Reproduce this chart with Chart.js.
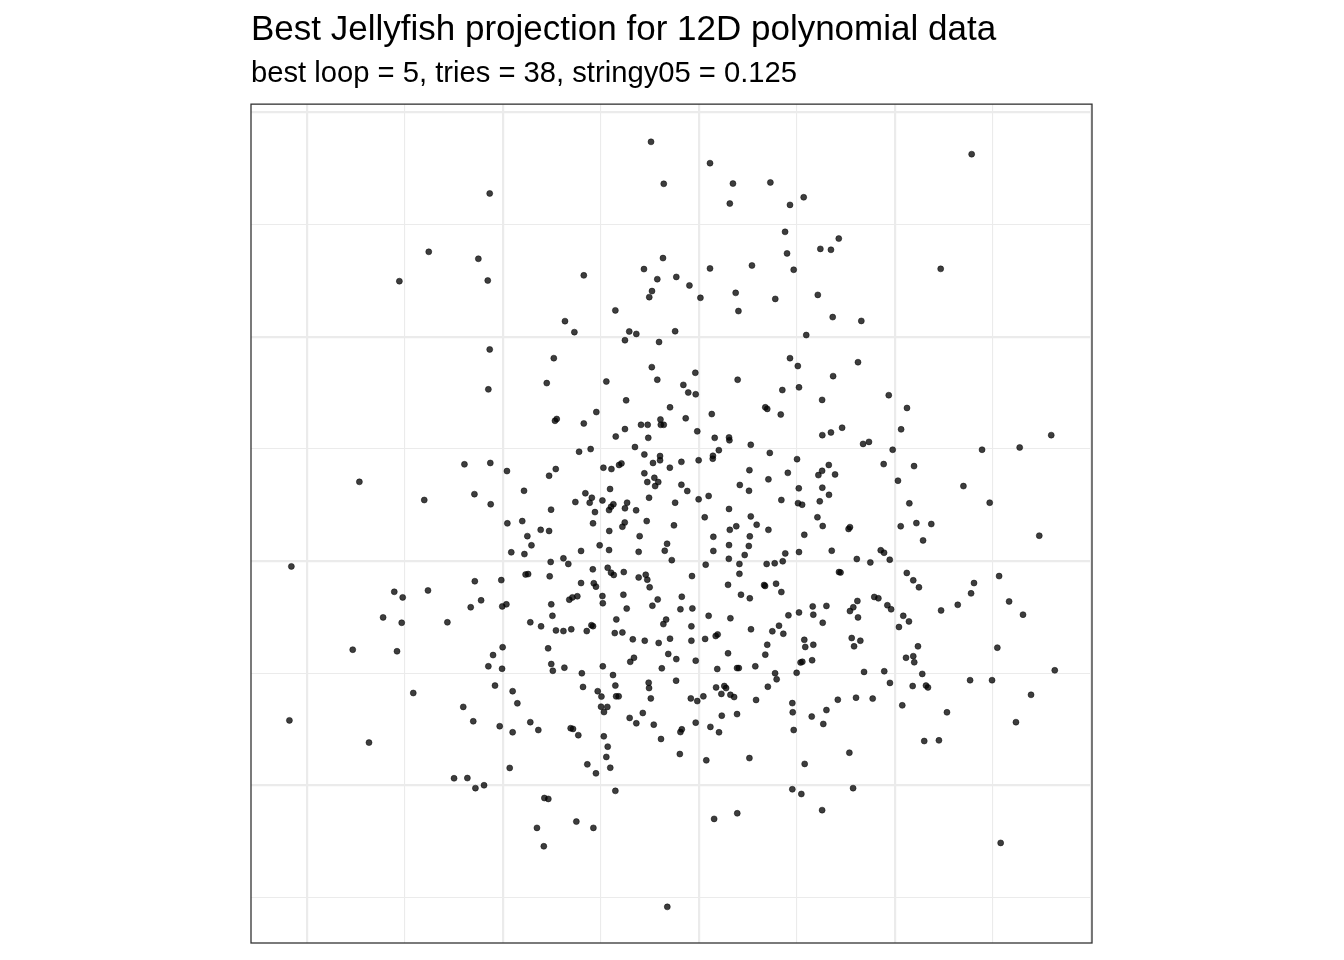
<!DOCTYPE html>
<html>
<head>
<meta charset="utf-8">
<script src="https://cdn.jsdelivr.net/npm/chart.js@4.4.1/dist/chart.umd.min.js"></script>
<style>
  html, body { margin: 0; padding: 0; background: #ffffff; }
  #wrap { width: 1344px; height: 960px; }
</style>
</head>
<body>
<div id="wrap"><canvas id="jelly" width="1344" height="960"></canvas></div>
<script>
const chartTitle = "Best Jellyfish projection for 12D polynomial data";
const chartSubtitle = "best loop = 5, tries = 38, stringy05 = 0.125";

// axis limits (projection units) and grid spacing
const xLimits = [-2.286, 2.005];
const yLimits = [-1.702, 2.036];
const gridStep = 0.5;

// projected points [x, y]
const upperBand = [
  [-1.068,1.638],[-1.379,1.378],[-1.126,1.347],[-1.529,1.247],[-1.078,1.250],[-1.068,0.943],
  [-0.245,1.868],[0.056,1.773],[-0.180,1.681],[0.173,1.682],[0.364,1.687],[0.157,1.593],[0.464,1.587],[0.534,1.621],[0.439,1.467],[0.449,1.371],[0.483,1.298],
  [-0.184,1.350],[-0.281,1.301],[-0.213,1.256],[-0.116,1.266],[-0.049,1.228],[0.056,1.304],[0.270,1.317],[-0.240,1.203],[-0.254,1.176],[0.007,1.173],[0.187,1.195],[0.389,1.168],[0.201,1.114],
  [-0.588,1.273],[-0.427,1.117],[-0.684,1.069],[-0.636,1.020],[-0.356,1.023],[-0.320,1.012],[-0.378,0.984],[-0.204,0.976],[-0.122,1.024],[0.547,1.007],
  [-0.741,0.904],[-0.777,0.793],[-0.473,0.800],[-0.241,0.864],[-0.213,0.808],[-0.080,0.785],[-0.019,0.839],[0.197,0.808],[0.464,0.904],[0.504,0.869],
  [1.391,1.813],[0.713,1.437],[0.619,1.391],[0.673,1.387],[1.233,1.302],[0.606,1.186],[0.682,1.087],[0.828,1.070],[0.811,0.886],[0.684,0.824]
];

const middleLeft = [
  [-1.075,0.765],[-1.197,0.431],[-1.065,0.437],[-0.980,0.401],[-1.733,0.353],[-1.402,0.272],[-1.146,0.298],[-1.063,0.253],[-0.893,0.313],
  [-0.978,0.168],[-0.902,0.178],[-0.876,0.111],[-0.855,0.070],[-0.958,0.039],[-0.891,0.031],[-2.080,-0.024],[-0.885,-0.060],[-0.872,-0.058],
  [-1.144,-0.090],[-1.009,-0.085],[-1.555,-0.137],[-1.512,-0.162],[-1.383,-0.131],[-1.112,-0.175],[-1.165,-0.206],[-1.004,-0.202],[-0.983,-0.193],
  [-1.612,-0.251],[-1.517,-0.275],[-1.284,-0.273],[-0.861,-0.273],[-1.767,-0.395],[-1.541,-0.402],[-1.002,-0.384],[-1.051,-0.419]
];

const middleRight = [
  [0.628,0.718],[0.968,0.739],[1.061,0.682],[0.629,0.561],[0.673,0.573],[0.730,0.594],[0.837,0.522],[0.867,0.531],[1.031,0.587],[0.988,0.496],
  [1.444,0.496],[1.636,0.506],[1.797,0.561],[0.662,0.428],[0.628,0.402],[0.609,0.383],[0.694,0.386],[0.942,0.432],[1.097,0.423],[1.015,0.358],
  [1.349,0.334],[1.483,0.260],[0.629,0.327],[0.663,0.295],[0.616,0.266],[1.073,0.257],[0.604,0.195],[0.631,0.156],[0.763,0.143],[0.770,0.151],
  [1.029,0.155],[1.109,0.169],[1.185,0.165],[1.143,0.092],[1.736,0.113],[0.677,0.046],[0.805,0.009],[0.874,-0.006],[0.927,0.048],[0.944,0.037],
  [0.973,0.006],[0.714,-0.049],[0.722,-0.051],[1.060,-0.053],[1.093,-0.086],[1.122,-0.117],[1.403,-0.098],[1.388,-0.144],[1.320,-0.195],[1.235,-0.220],
  [1.531,-0.067],[1.582,-0.180],[1.653,-0.239],[0.580,-0.202],[0.583,-0.239],[0.650,-0.200],[0.631,-0.275],[0.808,-0.178],[0.787,-0.206],[0.770,-0.223],
  [0.811,-0.251],[0.894,-0.160],[0.915,-0.166],[0.961,-0.197],[0.980,-0.215],[1.042,-0.244],[1.071,-0.269],[1.020,-0.294],[0.583,-0.373],[0.779,-0.343],
  [0.823,-0.355],[0.791,-0.380],[1.117,-0.380],[1.522,-0.386],[0.577,-0.442],[1.056,-0.431],[1.093,-0.424],[1.098,-0.451]
];

const middleCore = [
  [0.510,0.774],[-0.055,0.751],[-0.017,0.743],[0.425,0.762],[-0.372,0.716],[-0.148,0.685],[0.338,0.685],[0.348,0.678],[0.065,0.655],[0.417,0.653],
  [-0.524,0.664],[-0.735,0.625],[-0.726,0.633],[-0.588,0.613],[-0.296,0.607],[-0.262,0.607],[-0.197,0.631],[-0.195,0.607],[-0.180,0.607],[-0.068,0.636],
  [-0.378,0.588],[-0.425,0.555],[-0.259,0.549],[-0.009,0.578],[0.080,0.549],[0.153,0.551],[0.155,0.538],[0.264,0.518],
  [-0.612,0.487],[-0.553,0.499],[-0.327,0.508],[-0.279,0.475],[-0.199,0.468],[-0.199,0.449],[-0.235,0.437],[-0.090,0.442],[-0.149,0.416],[-0.002,0.449],
  [0.071,0.469],[0.070,0.456],[0.101,0.494],[0.361,0.482],[0.500,0.454],[-0.488,0.416],[-0.447,0.410],[-0.408,0.428],[-0.396,0.435],[-0.731,0.410],
  [-0.765,0.380],[0.257,0.405],[0.453,0.393],[-0.279,0.391],[-0.228,0.371],[-0.264,0.352],[-0.208,0.352],[-0.224,0.334],[-0.454,0.321],[-0.090,0.340],
  [-0.060,0.312],[0.208,0.339],[0.255,0.313],[0.354,0.364],[0.509,0.324],[-0.580,0.302],[-0.547,0.282],[-0.558,0.260],[-0.631,0.263],[-0.493,0.270],
  [-0.255,0.282],[-0.122,0.260],[-0.002,0.275],[0.049,0.290],[0.420,0.272],[0.505,0.258],[0.526,0.251],[-0.367,0.260],[-0.437,0.253],[-0.449,0.242],
  [-0.755,0.229],[-0.531,0.218],[-0.459,0.227],[-0.378,0.235],[-0.321,0.226],[0.153,0.232],[0.029,0.195],[0.264,0.199],[-0.541,0.168],[-0.379,0.172],
  [-0.391,0.153],[-0.267,0.178],[-0.128,0.159],[0.190,0.155],[0.294,0.162],[0.157,0.139],[0.354,0.139],[0.537,0.117],[-0.808,0.139],[-0.765,0.134],
  [-0.458,0.134],[-0.303,0.111],[0.073,0.108],[0.259,0.110],[-0.163,0.077],[-0.175,0.046],[0.153,0.071],[0.254,0.067],[-0.507,0.070],[-0.459,0.049],
  [-0.602,0.045],[-0.308,0.041],[0.073,0.045],[0.233,0.027],[0.440,0.034],[0.510,0.040],[-0.692,0.012],[-0.667,-0.013],[-0.757,-0.004],[-0.139,0.004],
  [0.152,0.010],[0.034,-0.016],[0.206,-0.013],[0.345,-0.013],[0.386,-0.010],[0.427,-0.001],[-0.542,-0.037],[-0.466,-0.030],[-0.449,-0.052],[-0.435,-0.062],
  [-0.384,-0.049],[-0.762,-0.068],[-0.308,-0.073],[-0.272,-0.061],[-0.264,-0.083],[-0.036,-0.067],[0.206,-0.057],[-0.602,-0.098],[-0.537,-0.099],[-0.526,-0.114],
  [-0.252,-0.117],[0.148,-0.106],[0.332,-0.107],[0.337,-0.111],[0.393,-0.101],[0.420,-0.138],[-0.662,-0.172],[-0.646,-0.162],[-0.621,-0.157],[-0.493,-0.156],
  [-0.491,-0.188],[-0.386,-0.150],[-0.088,-0.159],[-0.211,-0.171],[0.214,-0.150],[0.259,-0.166],[-0.754,-0.193],[-0.238,-0.199],[-0.369,-0.212],[-0.095,-0.215],
  [-0.034,-0.211],[-0.748,-0.244],[0.049,-0.244],[0.160,-0.255],[-0.422,-0.260],[-0.168,-0.261],[-0.182,-0.281],[0.456,-0.242],[0.510,-0.229],[-0.806,-0.291],
  [-0.549,-0.286],[-0.541,-0.290],[-0.730,-0.309],[-0.692,-0.312],[-0.652,-0.304],[-0.573,-0.312],[-0.430,-0.321],[-0.391,-0.318],[-0.039,-0.291],[0.265,-0.304],
  [0.408,-0.288],[0.374,-0.313],[0.430,-0.324],[0.085,-0.334],[0.095,-0.327],[-0.338,-0.349],[-0.277,-0.355],[-0.206,-0.365],[-0.148,-0.346],[-0.039,-0.355],
  [0.031,-0.347],[-0.770,-0.389],[0.348,-0.373],[0.537,-0.351],[0.542,-0.383],[-0.157,-0.414],[-0.116,-0.437],[0.148,-0.411],[0.338,-0.417],[-0.017,-0.444],
  [-0.351,-0.449],[-0.332,-0.431],[-0.754,-0.459],[0.527,-0.449],[0.518,-0.452]
];

const lowerBand = [
  [-1.075,-0.469],[-1.005,-0.480],[-1.458,-0.588],[-1.041,-0.555],[-0.951,-0.580],[-0.927,-0.634],[-1.203,-0.650],[-2.090,-0.710],[-1.152,-0.714],
  [-1.017,-0.736],[-0.951,-0.763],[-0.861,-0.718],[-1.684,-0.809],[-0.966,-0.922],[-1.250,-0.968],[-1.182,-0.967],[-1.141,-1.012],[-1.097,-0.999],
  [-0.746,-0.489],[-0.687,-0.475],[-0.491,-0.469],[-0.190,-0.478],[0.093,-0.481],[0.194,-0.477],[0.203,-0.477],[0.287,-0.469],[-0.598,-0.500],
  [-0.439,-0.508],[-0.257,-0.542],[-0.255,-0.566],[-0.117,-0.533],[0.388,-0.500],[0.498,-0.498],[0.396,-0.527],[-0.592,-0.561],[-0.427,-0.555],
  [-0.517,-0.580],[-0.498,-0.604],[-0.423,-0.603],[-0.410,-0.603],[-0.246,-0.612],[-0.042,-0.612],[-0.009,-0.624],[0.022,-0.603],[0.087,-0.563],
  [0.129,-0.557],[0.138,-0.566],[0.114,-0.592],[0.160,-0.596],[0.179,-0.606],[0.291,-0.619],[0.351,-0.560],[0.476,-0.633],[0.478,-0.674],
  [-0.500,-0.649],[-0.468,-0.650],[-0.485,-0.673],[-0.820,-0.753],[-0.354,-0.699],[-0.287,-0.677],[-0.320,-0.723],[-0.231,-0.729],[-0.655,-0.745],
  [-0.643,-0.748],[-0.616,-0.776],[-0.486,-0.781],[-0.095,-0.762],[-0.088,-0.750],[-0.017,-0.720],[0.058,-0.739],[0.102,-0.763],[0.116,-0.689],
  [0.194,-0.682],[-0.194,-0.793],[-0.466,-0.827],[-0.473,-0.873],[-0.453,-0.921],[-0.098,-0.860],[0.037,-0.888],[0.257,-0.878],[0.483,-0.753],
  [0.575,-0.693],[0.539,-0.904],[-0.570,-0.906],[-0.526,-0.946],[-0.427,-1.024],[0.476,-1.017],[0.522,-1.038],[-0.789,-1.056],[-0.769,-1.060],
  [-0.626,-1.161],[-0.539,-1.189],[-0.827,-1.189],[-0.792,-1.271],[0.077,-1.149],[0.195,-1.124],[-0.162,-1.541],
  [0.842,-0.494],[0.945,-0.491],[1.139,-0.503],[0.974,-0.543],[1.090,-0.557],[1.158,-0.555],[1.168,-0.563],[1.383,-0.531],[1.495,-0.531],
  [1.815,-0.487],[1.694,-0.596],[0.708,-0.618],[0.801,-0.609],[0.886,-0.613],[0.650,-0.664],[0.634,-0.726],[1.037,-0.643],[1.265,-0.674],
  [1.617,-0.718],[1.149,-0.802],[1.224,-0.799],[0.767,-0.854],[0.786,-1.012],[0.628,-1.110],[1.539,-1.256]
];

const allPoints = [...upperBand, ...middleLeft, ...middleRight, ...middleCore, ...lowerBand]
  .map(p => ({ x: p[0], y: p[1] }));

// ggplot style: major lines on whole numbers, minor lines halfway
function gridWidth(ctx) {
  const v = ctx.tick ? ctx.tick.value : 0;
  return Math.abs(v - Math.round(v)) < 1e-6 ? 2.2 : 1.1;
}

// panel border drawn over the points
const panelBorder = {
  id: 'panelBorder',
  afterDraw(chart) {
    const a = chart.chartArea;
    const c = chart.ctx;
    c.save();
    c.strokeStyle = '#333333';
    c.lineWidth = 1.3;
    c.strokeRect(a.left, a.top, a.right - a.left, a.bottom - a.top);
    c.restore();
  }
};

const ctx = document.getElementById('jelly');
new Chart(ctx, {
  type: 'scatter',
  data: {
    datasets: [{
      data: allPoints,
      backgroundColor: 'rgba(0,0,0,0.76)',
      borderColor: 'rgba(0,0,0,0.6)',
      borderWidth: 0.8,
      pointRadius: 3,
      pointHoverRadius: 3
    }]
  },
  options: {
    responsive: false,
    animation: false,
    devicePixelRatio: 1,
    layout: { padding: { left: 251, right: 252, top: 0, bottom: 17 } },
    plugins: {
      legend: { display: false },
      tooltip: { enabled: false },
      title: {
        display: true,
        text: chartTitle,
        align: 'start',
        color: '#000000',
        font: { family: "'Liberation Sans', Arial, sans-serif", size: 35, weight: 'normal', lineHeight: 1.2 },
        padding: { top: 9.4, bottom: 0 }
      },
      subtitle: {
        display: true,
        text: chartSubtitle,
        align: 'start',
        color: '#000000',
        font: { family: "'Liberation Sans', Arial, sans-serif", size: 29.2, weight: 'normal', lineHeight: 1.2 },
        padding: { top: 4.7, bottom: 13 }
      }
    },
    scales: {
      x: {
        type: 'linear',
        min: xLimits[0],
        max: xLimits[1],
        border: { display: false },
        grid: { color: '#EBEBEB', lineWidth: gridWidth, drawTicks: false },
        ticks: { display: false, stepSize: gridStep, includeBounds: false },
        afterFit: s => { s.height = 0; }
      },
      y: {
        type: 'linear',
        min: yLimits[0],
        max: yLimits[1],
        border: { display: false },
        grid: { color: '#EBEBEB', lineWidth: gridWidth, drawTicks: false },
        ticks: { display: false, stepSize: gridStep, includeBounds: false },
        afterFit: s => { s.width = 0; }
      }
    }
  },
  plugins: [panelBorder]
});
</script>
</body>
</html>
